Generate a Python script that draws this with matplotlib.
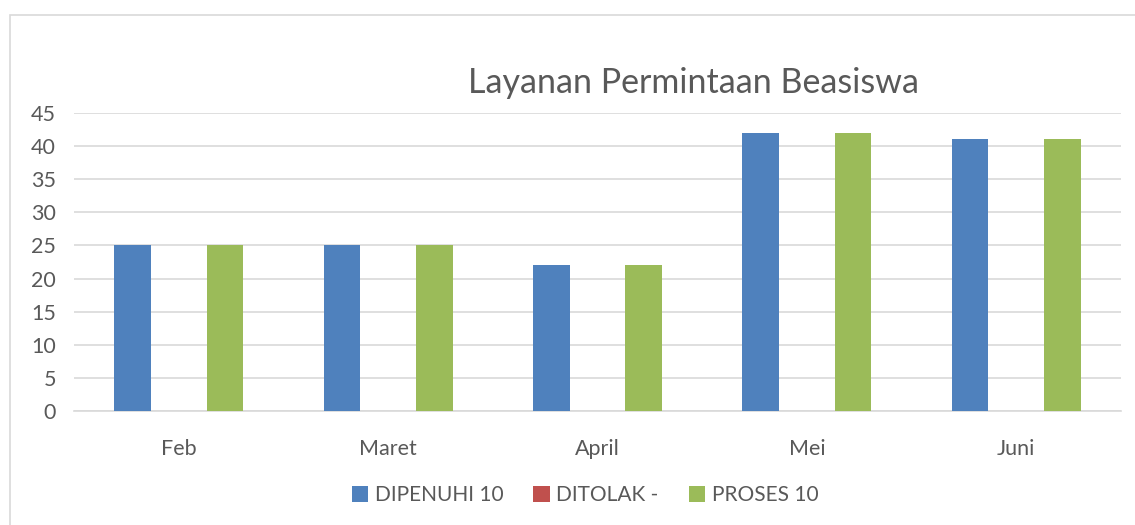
import matplotlib.pyplot as plt
import numpy as np
from matplotlib.patches import Rectangle

# ---------------- data ----------------
months = ["Feb", "Maret", "April", "Mei", "Juni"]
dipenuhi = [25, 25, 22, 42, 41]
ditolak = [0, 0, 0, 0, 0]
proses = [25, 25, 22, 42, 41]
series_names = ["DIPENUHI 10", "DITOLAK -", "PROSES 10"]
yticks = [0, 5, 10, 15, 20, 25, 30, 35, 40, 45]

colors = ["#4F81BD", "#C0504D", "#9BBB59"]
text_col = "#595959"
grid_col = "#D9D9D9"

plt.rcParams["font.family"] = ["Lato", "DejaVu Sans"]

W, H = 1135, 525
fig = plt.figure(figsize=(W / 100, H / 100), dpi=100)

# outer chart border (Excel chart area)
fig.patches.append(Rectangle((10 / W, -0.01), 1.2, 1 - 10 / H + 0.01 - 5 / H,
                             transform=fig.transFigure, fill=False,
                             edgecolor=grid_col, linewidth=1.2))

# plot area in pixels: x 74..1121, y 113..411
ax = fig.add_axes([74 / W, 1 - 411 / H, (1121 - 74) / W, (411 - 113) / H])

x = np.arange(len(months))
width = 0.175
step = 0.221
for i, (vals, name) in enumerate(zip([dipenuhi, ditolak, proses], series_names)):
    ax.bar(x + (i - 1) * step, vals, width=width, color=colors[i], label=name, zorder=3)

ax.set_xlim(-0.5, len(months) - 0.5)
ax.set_ylim(0, 45)
ax.set_yticks(yticks)
ax.set_xticks(x)
ax.set_xticklabels(months)
ax.grid(axis="y", color=grid_col, linewidth=1.2, zorder=0)
for s in ["top", "right", "left"]:
    ax.spines[s].set_visible(False)
ax.spines["bottom"].set_color(grid_col)
ax.spines["bottom"].set_linewidth(1.2)
ax.tick_params(axis="both", length=0, labelsize=15.5, colors=text_col)
ax.tick_params(axis="y", pad=13)
ax.tick_params(axis="x", pad=20)

fig.text(693 / W, 1 - 83 / H, "Layanan Permintaan Beasiswa", ha="center", va="center",
         fontsize=24.5, color=text_col)

leg = fig.legend(loc="center", bbox_to_anchor=(585 / W, 1 - 495 / H), ncol=3,
                 frameon=False, fontsize=15, handlelength=0.8, handleheight=0.8,
                 handletextpad=0.3, columnspacing=1.45)
for t in leg.get_texts():
    t.set_color(text_col)

fig.savefig("out.png", dpi=100)
